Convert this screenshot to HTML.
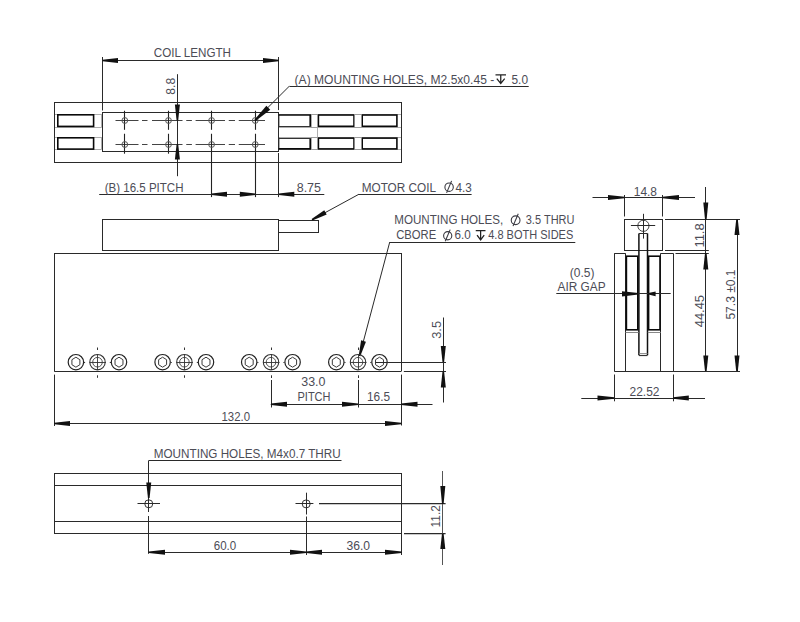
<!DOCTYPE html>
<html><head><meta charset="utf-8"><style>
html,body{margin:0;padding:0;background:#fff;}
body{width:800px;height:622px;overflow:hidden;}
svg{display:block;font-family:"Liberation Sans",sans-serif;}
</style></head><body>
<svg width="800" height="622" viewBox="0 0 800 622">
<rect width="800" height="622" fill="#fff"/>
<line x1="102.5" y1="57" x2="102.5" y2="110.5" stroke="#2a2a2a" stroke-width="1"/>
<line x1="278.5" y1="57" x2="278.5" y2="110.1" stroke="#2a2a2a" stroke-width="1"/>
<line x1="102.5" y1="60.5" x2="278.6" y2="60.5" stroke="#2a2a2a" stroke-width="1"/>
<polygon points="102.5,59.7 118,58 118,63 102.5,61.3" fill="#111"/>
<polygon points="278.6,61.3 263,63 263,58 278.6,59.7" fill="#111"/>
<text x="153.75" y="57" font-size="12" textLength="77.25" lengthAdjust="spacingAndGlyphs" fill="#4c4c56">COIL LENGTH</text>
<rect x="54.5" y="102.5" width="347" height="60" fill="none" stroke="#2a2a2a" stroke-width="1"/>
<rect x="102.5" y="112.5" width="176" height="39" fill="none" stroke="#2a2a2a" stroke-width="1"/>
<rect x="54.5" y="114.5" width="47" height="13" fill="none" stroke="#9a9a9a" stroke-width="0.8"/>
<rect x="57.8" y="114.8" width="35.8" height="11.6" fill="none" stroke="#0a0a0a" stroke-width="1.6"/>
<rect x="54.5" y="137.5" width="47" height="12" fill="none" stroke="#9a9a9a" stroke-width="0.8"/>
<rect x="57.8" y="137.8" width="35.8" height="11.3" fill="none" stroke="#0a0a0a" stroke-width="1.6"/>
<rect x="279.5" y="114.5" width="122" height="13" fill="none" stroke="#9a9a9a" stroke-width="0.8"/>
<rect x="318.4" y="115" width="35.6" height="11.3" fill="none" stroke="#0a0a0a" stroke-width="1.6"/>
<rect x="362.2" y="115" width="34.7" height="11.3" fill="none" stroke="#0a0a0a" stroke-width="1.6"/>
<line x1="310.2" y1="115" x2="310.2" y2="126.3" stroke="#0a0a0a" stroke-width="1.6"/>
<line x1="278.6" y1="115" x2="311" y2="115" stroke="#0a0a0a" stroke-width="1.6"/>
<line x1="278.6" y1="126.5" x2="311" y2="126.5" stroke="#333" stroke-width="1"/>
<rect x="311.5" y="114.5" width="6" height="13" fill="none" stroke="#9a9a9a" stroke-width="0.8"/>
<rect x="354.5" y="114.5" width="7" height="13" fill="none" stroke="#9a9a9a" stroke-width="0.8"/>
<rect x="279.5" y="137.5" width="122" height="12" fill="none" stroke="#9a9a9a" stroke-width="0.8"/>
<rect x="318.4" y="138.1" width="35.6" height="10.8" fill="none" stroke="#0a0a0a" stroke-width="1.6"/>
<rect x="362.2" y="138.1" width="34.7" height="10.8" fill="none" stroke="#0a0a0a" stroke-width="1.6"/>
<line x1="310.2" y1="138.1" x2="310.2" y2="148.9" stroke="#0a0a0a" stroke-width="1.6"/>
<line x1="278.6" y1="148.9" x2="311" y2="148.9" stroke="#0a0a0a" stroke-width="1.6"/>
<line x1="278.6" y1="138.5" x2="311" y2="138.5" stroke="#333" stroke-width="1"/>
<rect x="311.5" y="137.5" width="6" height="12" fill="none" stroke="#9a9a9a" stroke-width="0.8"/>
<rect x="354.5" y="137.5" width="7" height="12" fill="none" stroke="#9a9a9a" stroke-width="0.8"/>
<line x1="317.5" y1="127.3" x2="317.5" y2="137.2" stroke="#9a9a9a" stroke-width="0.8"/>
<rect x="54.5" y="102.5" width="347" height="60" fill="none" stroke="#2a2a2a" stroke-width="1"/>
<line x1="115.5" y1="120.5" x2="138.5" y2="120.5" stroke="#444" stroke-width="1"/>
<line x1="142" y1="120.5" x2="147.5" y2="120.5" stroke="#444" stroke-width="1"/>
<line x1="152" y1="120.5" x2="182.5" y2="120.5" stroke="#444" stroke-width="1"/>
<line x1="186.25" y1="120.5" x2="191.9" y2="120.5" stroke="#444" stroke-width="1"/>
<line x1="195.6" y1="120.5" x2="225" y2="120.5" stroke="#444" stroke-width="1"/>
<line x1="228.75" y1="120.5" x2="235" y2="120.5" stroke="#444" stroke-width="1"/>
<line x1="238.75" y1="120.5" x2="265" y2="120.5" stroke="#444" stroke-width="1"/>
<line x1="115.5" y1="144.5" x2="138.5" y2="144.5" stroke="#444" stroke-width="1"/>
<line x1="142" y1="144.5" x2="147.5" y2="144.5" stroke="#444" stroke-width="1"/>
<line x1="152" y1="144.5" x2="182.5" y2="144.5" stroke="#444" stroke-width="1"/>
<line x1="186.25" y1="144.5" x2="191.9" y2="144.5" stroke="#444" stroke-width="1"/>
<line x1="195.6" y1="144.5" x2="225" y2="144.5" stroke="#444" stroke-width="1"/>
<line x1="228.75" y1="144.5" x2="235" y2="144.5" stroke="#444" stroke-width="1"/>
<line x1="238.75" y1="144.5" x2="265" y2="144.5" stroke="#444" stroke-width="1"/>
<line x1="124.5" y1="110.75" x2="124.5" y2="129.8" stroke="#222" stroke-width="1.1"/>
<line x1="124.5" y1="133.75" x2="124.5" y2="153.7" stroke="#222" stroke-width="1.1"/>
<line x1="168.5" y1="110.75" x2="168.5" y2="129.8" stroke="#222" stroke-width="1.1"/>
<line x1="168.5" y1="133.75" x2="168.5" y2="153.7" stroke="#222" stroke-width="1.1"/>
<line x1="211.5" y1="110.75" x2="211.5" y2="129.8" stroke="#222" stroke-width="1.1"/>
<line x1="211.5" y1="133.75" x2="211.5" y2="197.1" stroke="#222" stroke-width="1.1"/>
<line x1="255.5" y1="110.75" x2="255.5" y2="129.8" stroke="#222" stroke-width="1.1"/>
<line x1="255.5" y1="133.75" x2="255.5" y2="197.1" stroke="#222" stroke-width="1.1"/>
<circle cx="124.8" cy="120.5" r="2.9" fill="none" stroke="#555" stroke-width="1"/>
<circle cx="124.8" cy="144.5" r="2.9" fill="none" stroke="#555" stroke-width="1"/>
<circle cx="168.5" cy="120.5" r="2.9" fill="none" stroke="#555" stroke-width="1"/>
<circle cx="168.5" cy="144.5" r="2.9" fill="none" stroke="#555" stroke-width="1"/>
<circle cx="211.6" cy="120.5" r="2.9" fill="none" stroke="#555" stroke-width="1"/>
<circle cx="211.6" cy="144.5" r="2.9" fill="none" stroke="#555" stroke-width="1"/>
<circle cx="255.25" cy="120.5" r="2.9" fill="none" stroke="#555" stroke-width="1"/>
<circle cx="255.25" cy="144.5" r="2.9" fill="none" stroke="#555" stroke-width="1"/>
<line x1="177.5" y1="74.2" x2="177.5" y2="176.2" stroke="#2a2a2a" stroke-width="1"/>
<polygon points="176.6,120.6 174.9,104.5 179.9,104.5 178.2,120.6" fill="#111"/>
<polygon points="178.2,144.3 179.9,159.5 174.9,159.5 176.6,144.3" fill="#111"/>
<text transform="translate(174.7,94.7) rotate(-90)" x="0" y="0" font-size="12" textLength="16.8" lengthAdjust="spacingAndGlyphs" fill="#4c4c56">8.8</text>
<line x1="528.7" y1="86.5" x2="289.4" y2="86.5" stroke="#2a2a2a" stroke-width="1"/>
<line x1="289.2" y1="86.3" x2="258" y2="117.4" stroke="#2a2a2a" stroke-width="1"/>
<polygon points="254.45,119.72 266.37,105.67 270.23,109.73 255.55,120.88" fill="#111"/>
<text x="294.6" y="83.6" font-size="12" textLength="199.6" lengthAdjust="spacingAndGlyphs" fill="#4c4c56">(A) MOUNTING HOLES, M2.5x0.45 -</text>
<path d="M495.5 74.8H506M500.75 74.8V83.4M496.8 78.6L500.75 83.4L504.7 78.6" fill="none" stroke="#222" stroke-width="1.25"/>
<text x="511.5" y="83.6" font-size="12" textLength="16.5" lengthAdjust="spacingAndGlyphs" fill="#4c4c56">5.0</text>
<line x1="99.2" y1="194.5" x2="324.3" y2="194.5" stroke="#2a2a2a" stroke-width="1"/>
<polygon points="211.6,193.4 227,191.7 227,196.7 211.6,195" fill="#111"/>
<polygon points="255.25,195 239.8,196.7 239.8,191.7 255.25,193.4" fill="#111"/>
<polygon points="278.8,193.4 294.3,191.7 294.3,196.7 278.8,195" fill="#111"/>
<line x1="278.5" y1="153" x2="278.5" y2="197.1" stroke="#2a2a2a" stroke-width="1"/>
<text x="104.75" y="192" font-size="12" textLength="78.75" lengthAdjust="spacingAndGlyphs" fill="#4c4c56">(B) 16.5 PITCH</text>
<text x="296.7" y="191.6" font-size="12" textLength="24.3" lengthAdjust="spacingAndGlyphs" fill="#4c4c56">8.75</text>
<rect x="102.5" y="219.5" width="176" height="31" fill="none" stroke="#2a2a2a" stroke-width="1"/>
<rect x="278.5" y="220.5" width="40" height="12" fill="none" stroke="#2a2a2a" stroke-width="1"/>
<line x1="54.25" y1="253.5" x2="401.2" y2="253.5" stroke="#2a2a2a" stroke-width="1"/>
<line x1="54.5" y1="253" x2="54.5" y2="371.4" stroke="#2a2a2a" stroke-width="1"/>
<line x1="401.5" y1="253" x2="401.5" y2="371.4" stroke="#2a2a2a" stroke-width="1"/>
<line x1="54.25" y1="371.5" x2="401.2" y2="371.5" stroke="#2a2a2a" stroke-width="1.2"/>
<line x1="54.5" y1="374.6" x2="54.5" y2="426" stroke="#2a2a2a" stroke-width="1"/>
<line x1="401.5" y1="374.6" x2="401.5" y2="425.5" stroke="#2a2a2a" stroke-width="1"/>
<line x1="471.6" y1="194.5" x2="359" y2="194.5" stroke="#2a2a2a" stroke-width="1"/>
<line x1="359" y1="194.2" x2="312" y2="219.8" stroke="#2a2a2a" stroke-width="1"/>
<polygon points="311.62,219.1 324.3,210.21 326.7,214.59 312.38,220.5" fill="#111"/>
<text x="361.7" y="191.7" font-size="12" textLength="74.3" lengthAdjust="spacingAndGlyphs" fill="#4c4c56">MOTOR COIL</text>
<circle cx="449.1" cy="187.2" r="4.2" fill="none" stroke="#3a3a42" stroke-width="1.1"/>
<line x1="446.58" y1="192.87" x2="451.62" y2="180.9" stroke="#3a3a42" stroke-width="1.1"/>
<text x="455.6" y="191.7" font-size="12" textLength="16.3" lengthAdjust="spacingAndGlyphs" fill="#4c4c56">4.3</text>
<line x1="575.3" y1="242.5" x2="389.75" y2="242.5" stroke="#2a2a2a" stroke-width="1"/>
<line x1="389.75" y1="242" x2="359.5" y2="356" stroke="#2a2a2a" stroke-width="1"/>
<polygon points="358.73,355.79 361.08,340.36 365.92,341.64 360.27,356.21" fill="#111"/>
<text x="394.25" y="224.2" font-size="12" textLength="109" lengthAdjust="spacingAndGlyphs" fill="#4c4c56">MOUNTING HOLES,</text>
<circle cx="515.62" cy="220.25" r="4.38" fill="none" stroke="#3a3a42" stroke-width="1.1"/>
<line x1="513" y1="226.16" x2="518.25" y2="213.69" stroke="#3a3a42" stroke-width="1.1"/>
<text x="525.75" y="224.2" font-size="12" textLength="48.75" lengthAdjust="spacingAndGlyphs" fill="#4c4c56">3.5 THRU</text>
<text x="396.2" y="239.2" font-size="12" textLength="40.05" lengthAdjust="spacingAndGlyphs" fill="#4c4c56">CBORE</text>
<circle cx="447.7" cy="235.75" r="4.1" fill="none" stroke="#3a3a42" stroke-width="1.1"/>
<line x1="445.24" y1="241.28" x2="450.16" y2="229.6" stroke="#3a3a42" stroke-width="1.1"/>
<text x="454.5" y="239.2" font-size="12" textLength="16.25" lengthAdjust="spacingAndGlyphs" fill="#4c4c56">6.0</text>
<path d="M475.75 230.5H485.5M480.62 230.5V239.9M477.05 235.1L480.62 239.9L484.2 235.1" fill="none" stroke="#222" stroke-width="1.25"/>
<text x="488.25" y="239.2" font-size="12" textLength="85.05" lengthAdjust="spacingAndGlyphs" fill="#4c4c56">4.8 BOTH SIDES</text>
<circle cx="75.9" cy="362.2" r="7.7" fill="none" stroke="#222" stroke-width="1.2"/>
<polygon points="75.9,357.2 71.92,359.7 71.92,364.7 75.9,367.2 79.88,364.7 79.88,359.7" fill="none" stroke="#3c3c3c" stroke-width="1"/>
<circle cx="119" cy="362.2" r="7.7" fill="none" stroke="#222" stroke-width="1.2"/>
<polygon points="119,357.2 115.02,359.7 115.02,364.7 119,367.2 122.98,364.7 122.98,359.7" fill="none" stroke="#3c3c3c" stroke-width="1"/>
<circle cx="97.5" cy="362.2" r="7.7" fill="none" stroke="#333" stroke-width="1.1"/>
<circle cx="97.5" cy="362.2" r="4.8" fill="none" stroke="#555" stroke-width="1"/>
<line x1="89.5" y1="362.5" x2="106" y2="362.5" stroke="#333" stroke-width="0.9"/>
<line x1="97.5" y1="354" x2="97.5" y2="370" stroke="#333" stroke-width="0.9"/>
<line x1="97.5" y1="347.5" x2="97.5" y2="350" stroke="#333" stroke-width="1"/>
<line x1="83.9" y1="362.5" x2="85.1" y2="362.5" stroke="#333" stroke-width="1.2"/>
<line x1="109.8" y1="362.5" x2="111" y2="362.5" stroke="#333" stroke-width="1.2"/>
<circle cx="162.6" cy="362.2" r="7.7" fill="none" stroke="#222" stroke-width="1.2"/>
<polygon points="162.6,357.2 158.62,359.7 158.62,364.7 162.6,367.2 166.58,364.7 166.58,359.7" fill="none" stroke="#3c3c3c" stroke-width="1"/>
<circle cx="206" cy="362.2" r="7.7" fill="none" stroke="#222" stroke-width="1.2"/>
<polygon points="206,357.2 202.02,359.7 202.02,364.7 206,367.2 209.98,364.7 209.98,359.7" fill="none" stroke="#3c3c3c" stroke-width="1"/>
<circle cx="184.4" cy="362.2" r="7.7" fill="none" stroke="#333" stroke-width="1.1"/>
<circle cx="184.4" cy="362.2" r="4.8" fill="none" stroke="#555" stroke-width="1"/>
<line x1="176.4" y1="362.5" x2="192.9" y2="362.5" stroke="#333" stroke-width="0.9"/>
<line x1="184.5" y1="354" x2="184.5" y2="370" stroke="#333" stroke-width="0.9"/>
<line x1="184.5" y1="347.5" x2="184.5" y2="350" stroke="#333" stroke-width="1"/>
<line x1="170.6" y1="362.5" x2="171.8" y2="362.5" stroke="#333" stroke-width="1.2"/>
<line x1="196.8" y1="362.5" x2="198" y2="362.5" stroke="#333" stroke-width="1.2"/>
<circle cx="249.2" cy="362.2" r="7.7" fill="none" stroke="#222" stroke-width="1.2"/>
<polygon points="249.2,357.2 245.22,359.7 245.22,364.7 249.2,367.2 253.18,364.7 253.18,359.7" fill="none" stroke="#3c3c3c" stroke-width="1"/>
<circle cx="292.6" cy="362.2" r="7.7" fill="none" stroke="#222" stroke-width="1.2"/>
<polygon points="292.6,357.2 288.62,359.7 288.62,364.7 292.6,367.2 296.58,364.7 296.58,359.7" fill="none" stroke="#3c3c3c" stroke-width="1"/>
<circle cx="271" cy="362.2" r="7.7" fill="none" stroke="#333" stroke-width="1.1"/>
<circle cx="271" cy="362.2" r="4.8" fill="none" stroke="#555" stroke-width="1"/>
<line x1="263" y1="362.5" x2="279.5" y2="362.5" stroke="#333" stroke-width="0.9"/>
<line x1="271.5" y1="354" x2="271.5" y2="370" stroke="#333" stroke-width="0.9"/>
<line x1="271.5" y1="347.5" x2="271.5" y2="350" stroke="#333" stroke-width="1"/>
<line x1="257.2" y1="362.5" x2="258.4" y2="362.5" stroke="#333" stroke-width="1.2"/>
<line x1="283.4" y1="362.5" x2="284.6" y2="362.5" stroke="#333" stroke-width="1.2"/>
<circle cx="336.3" cy="362.2" r="7.7" fill="none" stroke="#222" stroke-width="1.2"/>
<polygon points="336.3,357.2 332.32,359.7 332.32,364.7 336.3,367.2 340.28,364.7 340.28,359.7" fill="none" stroke="#3c3c3c" stroke-width="1"/>
<circle cx="379.5" cy="362.2" r="7.7" fill="none" stroke="#222" stroke-width="1.2"/>
<polygon points="379.5,357.2 375.52,359.7 375.52,364.7 379.5,367.2 383.48,364.7 383.48,359.7" fill="none" stroke="#3c3c3c" stroke-width="1"/>
<circle cx="358" cy="362.2" r="7.7" fill="none" stroke="#333" stroke-width="1.1"/>
<circle cx="358" cy="362.2" r="4.8" fill="none" stroke="#555" stroke-width="1"/>
<line x1="350" y1="362.5" x2="366.5" y2="362.5" stroke="#333" stroke-width="0.9"/>
<line x1="358.5" y1="354" x2="358.5" y2="370" stroke="#333" stroke-width="0.9"/>
<line x1="358.5" y1="347.5" x2="358.5" y2="350" stroke="#333" stroke-width="1"/>
<line x1="344.3" y1="362.5" x2="345.5" y2="362.5" stroke="#333" stroke-width="1.2"/>
<line x1="370.3" y1="362.5" x2="371.5" y2="362.5" stroke="#333" stroke-width="1.2"/>
<line x1="97.5" y1="375.3" x2="97.5" y2="377.8" stroke="#333" stroke-width="1"/>
<line x1="184.5" y1="375.3" x2="184.5" y2="377.8" stroke="#333" stroke-width="1"/>
<line x1="271.5" y1="375.3" x2="271.5" y2="378" stroke="#333" stroke-width="1"/>
<line x1="271.5" y1="380" x2="271.5" y2="407.5" stroke="#2a2a2a" stroke-width="1"/>
<line x1="358.5" y1="375.3" x2="358.5" y2="378" stroke="#333" stroke-width="1"/>
<line x1="358.5" y1="380" x2="358.5" y2="407.5" stroke="#2a2a2a" stroke-width="1"/>
<line x1="270.75" y1="404.5" x2="432.5" y2="404.5" stroke="#2a2a2a" stroke-width="1"/>
<polygon points="271,403.5 287,401.8 287,406.8 271,405.1" fill="#111"/>
<polygon points="358,405.1 342,406.8 342,401.8 358,403.5" fill="#111"/>
<polygon points="401.2,403.5 417.5,401.8 417.5,406.8 401.2,405.1" fill="#111"/>
<text x="301.25" y="386.3" font-size="12" textLength="24.25" lengthAdjust="spacingAndGlyphs" fill="#4c4c56">33.0</text>
<text x="297.5" y="401.3" font-size="12" textLength="33" lengthAdjust="spacingAndGlyphs" fill="#4c4c56">PITCH</text>
<text x="367" y="401.3" font-size="12" textLength="23" lengthAdjust="spacingAndGlyphs" fill="#4c4c56">16.5</text>
<line x1="54.25" y1="423.5" x2="401.2" y2="423.5" stroke="#2a2a2a" stroke-width="1"/>
<polygon points="54.25,422.7 70,421 70,426 54.25,424.3" fill="#111"/>
<polygon points="401.2,424.3 385,426 385,421 401.2,422.7" fill="#111"/>
<text x="221.5" y="421" font-size="12" textLength="28.5" lengthAdjust="spacingAndGlyphs" fill="#4c4c56">132.0</text>
<line x1="375.5" y1="362.5" x2="446" y2="362.5" stroke="#2a2a2a" stroke-width="1"/>
<line x1="403.8" y1="371.5" x2="446" y2="371.5" stroke="#2a2a2a" stroke-width="1"/>
<line x1="443.5" y1="317.5" x2="443.5" y2="402.5" stroke="#2a2a2a" stroke-width="1"/>
<polygon points="442.5,362.2 440.8,346 445.8,346 444.1,362.2" fill="#111"/>
<polygon points="444.1,371.4 445.8,387.5 440.8,387.5 442.5,371.4" fill="#111"/>
<text transform="translate(440.6,338.8) rotate(-90)" x="0" y="0" font-size="12" textLength="17.8" lengthAdjust="spacingAndGlyphs" fill="#4c4c56">3.5</text>
<rect x="624.5" y="219.5" width="38" height="31" fill="none" stroke="#2a2a2a" stroke-width="1"/>
<circle cx="643.4" cy="225.8" r="5.6" fill="none" stroke="#444" stroke-width="1"/>
<line x1="643.5" y1="213.8" x2="643.5" y2="238.6" stroke="#2a2a2a" stroke-width="1"/>
<line x1="630.9" y1="225.5" x2="655.2" y2="225.5" stroke="#2a2a2a" stroke-width="1"/>
<line x1="638.9" y1="233.4" x2="638.9" y2="355.2" stroke="#111" stroke-width="1.5"/>
<line x1="647.5" y1="233.4" x2="647.5" y2="355.2" stroke="#111" stroke-width="1.5"/>
<line x1="638.9" y1="233.5" x2="647.5" y2="233.5" stroke="#2a2a2a" stroke-width="1"/>
<line x1="638.9" y1="353.5" x2="647.5" y2="353.5" stroke="#888" stroke-width="0.9"/>
<line x1="638.9" y1="355.5" x2="647.5" y2="355.5" stroke="#333" stroke-width="1.2"/>
<line x1="614.3" y1="253.5" x2="625.5" y2="253.5" stroke="#2a2a2a" stroke-width="1"/>
<line x1="660.7" y1="253.5" x2="673.2" y2="253.5" stroke="#2a2a2a" stroke-width="1"/>
<line x1="614.5" y1="253.3" x2="614.5" y2="371.4" stroke="#2a2a2a" stroke-width="1"/>
<line x1="673.5" y1="253.3" x2="673.5" y2="371.4" stroke="#2a2a2a" stroke-width="1"/>
<line x1="614.3" y1="371.5" x2="673.2" y2="371.5" stroke="#2a2a2a" stroke-width="1"/>
<line x1="625.5" y1="253.3" x2="625.5" y2="371.4" stroke="#2a2a2a" stroke-width="1"/>
<line x1="660.5" y1="253.3" x2="660.5" y2="371.4" stroke="#2a2a2a" stroke-width="1"/>
<rect x="626.4" y="256.2" width="11.4" height="73.6" fill="none" stroke="#0a0a0a" stroke-width="1.6"/>
<rect x="648.6" y="256.2" width="11.4" height="73.6" fill="none" stroke="#0a0a0a" stroke-width="1.6"/>
<line x1="625.5" y1="332.5" x2="638.6" y2="332.5" stroke="#888" stroke-width="1"/>
<line x1="647.8" y1="332.5" x2="660.7" y2="332.5" stroke="#888" stroke-width="1"/>
<line x1="624.5" y1="195" x2="624.5" y2="216.5" stroke="#2a2a2a" stroke-width="1"/>
<line x1="662.5" y1="195" x2="662.5" y2="216.5" stroke="#2a2a2a" stroke-width="1"/>
<line x1="592.5" y1="197.5" x2="695" y2="197.5" stroke="#2a2a2a" stroke-width="1"/>
<polygon points="624.5,198.3 608,200 608,195 624.5,196.7" fill="#111"/>
<polygon points="662.5,196.7 679,195 679,200 662.5,198.3" fill="#111"/>
<text x="633.75" y="195.5" font-size="12" textLength="23.25" lengthAdjust="spacingAndGlyphs" fill="#4c4c56">14.8</text>
<line x1="665" y1="219.5" x2="740" y2="219.5" stroke="#2a2a2a" stroke-width="1"/>
<line x1="665" y1="250.5" x2="708.8" y2="250.5" stroke="#2a2a2a" stroke-width="1"/>
<line x1="675.5" y1="253.5" x2="708.8" y2="253.5" stroke="#2a2a2a" stroke-width="1"/>
<line x1="705.5" y1="187" x2="705.5" y2="371.3" stroke="#2a2a2a" stroke-width="1"/>
<polygon points="705,219.4 703.3,202.5 708.3,202.5 706.6,219.4" fill="#111"/>
<polygon points="706.6,253.2 708.3,269.5 703.3,269.5 705,253.2" fill="#111"/>
<polygon points="705,371.3 703.3,355.5 708.3,355.5 706.6,371.3" fill="#111"/>
<line x1="737.5" y1="219.4" x2="737.5" y2="371.3" stroke="#2a2a2a" stroke-width="1"/>
<polygon points="737.8,219.4 739.5,235 734.5,235 736.2,219.4" fill="#111"/>
<polygon points="736.2,371.3 734.5,355.5 739.5,355.5 737.8,371.3" fill="#111"/>
<line x1="673.1" y1="371.5" x2="740" y2="371.5" stroke="#2a2a2a" stroke-width="1"/>
<text transform="translate(703.5,247.6) rotate(-90)" x="0" y="0" font-size="12" textLength="24.3" lengthAdjust="spacingAndGlyphs" fill="#4c4c56">11.8</text>
<text transform="translate(704.3,327.3) rotate(-90)" x="0" y="0" font-size="12" textLength="32.3" lengthAdjust="spacingAndGlyphs" fill="#4c4c56">44.45</text>
<text transform="translate(735.3,319.6) rotate(-90)" x="0" y="0" font-size="12" textLength="50.1" lengthAdjust="spacingAndGlyphs" fill="#4c4c56">57.3 ±0.1</text>
<line x1="556.3" y1="293.5" x2="670.7" y2="293.5" stroke="#2a2a2a" stroke-width="1"/>
<polygon points="638.3,294.6 622,296.4 622,291.2 638.3,293" fill="#111"/>
<polygon points="648.4,293 655.6,291.4 655.6,296.2 648.4,294.6" fill="#111"/>
<text x="569.75" y="276.6" font-size="12" textLength="24.65" lengthAdjust="spacingAndGlyphs" fill="#4c4c56">(0.5)</text>
<text x="557.5" y="291.3" font-size="12" textLength="48.1" lengthAdjust="spacingAndGlyphs" fill="#4c4c56">AIR GAP</text>
<line x1="614.5" y1="374.5" x2="614.5" y2="401.3" stroke="#2a2a2a" stroke-width="1"/>
<line x1="673.5" y1="374.5" x2="673.5" y2="401.3" stroke="#2a2a2a" stroke-width="1"/>
<line x1="581.3" y1="398.5" x2="705" y2="398.5" stroke="#2a2a2a" stroke-width="1"/>
<polygon points="614.3,398.8 597.5,400.5 597.5,395.5 614.3,397.2" fill="#111"/>
<polygon points="673.1,397.2 688.8,395.5 688.8,400.5 673.1,398.8" fill="#111"/>
<text x="629.5" y="396.3" font-size="12" textLength="30" lengthAdjust="spacingAndGlyphs" fill="#4c4c56">22.52</text>
<rect x="54.5" y="473.5" width="347" height="60" fill="none" stroke="#2a2a2a" stroke-width="1"/>
<line x1="54.3" y1="485.5" x2="401.6" y2="485.5" stroke="#2a2a2a" stroke-width="1.2"/>
<line x1="54.3" y1="521.5" x2="401.6" y2="521.5" stroke="#2a2a2a" stroke-width="1.2"/>
<circle cx="148.75" cy="503.8" r="4" fill="none" stroke="#333" stroke-width="1"/>
<line x1="137.5" y1="503.5" x2="160" y2="503.5" stroke="#2a2a2a" stroke-width="1"/>
<circle cx="306.2" cy="503.9" r="4" fill="none" stroke="#333" stroke-width="1"/>
<line x1="295.5" y1="503.5" x2="313.4" y2="503.5" stroke="#2a2a2a" stroke-width="1"/>
<line x1="319" y1="503.5" x2="445.6" y2="503.5" stroke="#2a2a2a" stroke-width="1.25"/>
<line x1="306.5" y1="492.7" x2="306.5" y2="514.5" stroke="#2a2a2a" stroke-width="1"/>
<line x1="306.5" y1="516.5" x2="306.5" y2="555" stroke="#2a2a2a" stroke-width="1"/>
<line x1="148.5" y1="460.5" x2="148.5" y2="512" stroke="#2a2a2a" stroke-width="1"/>
<line x1="148.5" y1="516" x2="148.5" y2="553.8" stroke="#2a2a2a" stroke-width="1"/>
<polygon points="147.95,498 146.25,482.5 151.25,482.5 149.55,498" fill="#111"/>
<line x1="148.75" y1="460.5" x2="341.5" y2="460.5" stroke="#2a2a2a" stroke-width="1"/>
<text x="153.75" y="457.5" font-size="12" textLength="186.95" lengthAdjust="spacingAndGlyphs" fill="#4c4c56">MOUNTING HOLES, M4x0.7 THRU</text>
<line x1="401.5" y1="533.6" x2="401.5" y2="555" stroke="#2a2a2a" stroke-width="1"/>
<line x1="148.75" y1="552.5" x2="401.6" y2="552.5" stroke="#2a2a2a" stroke-width="1"/>
<polygon points="148.75,551.4 165,549.7 165,554.7 148.75,553" fill="#111"/>
<polygon points="306.2,553 290,554.7 290,549.7 306.2,551.4" fill="#111"/>
<polygon points="306.2,551.4 322,549.7 322,554.7 306.2,553" fill="#111"/>
<polygon points="401.6,553 385,554.7 385,549.7 401.6,551.4" fill="#111"/>
<text x="213.75" y="549.6" font-size="12" textLength="22.5" lengthAdjust="spacingAndGlyphs" fill="#4c4c56">60.0</text>
<text x="346.4" y="549.9" font-size="12" textLength="23.6" lengthAdjust="spacingAndGlyphs" fill="#4c4c56">36.0</text>
<line x1="404" y1="533.5" x2="445.6" y2="533.5" stroke="#2a2a2a" stroke-width="1.25"/>
<line x1="442.5" y1="471" x2="442.5" y2="565" stroke="#555" stroke-width="1"/>
<polygon points="442,503.9 440.3,486 445.3,486 443.6,503.9" fill="#111"/>
<polygon points="443.6,533.6 445.3,549 440.3,549 442,533.6" fill="#111"/>
<text transform="translate(440.3,527.4) rotate(-90)" x="0" y="0" font-size="12" textLength="22.2" lengthAdjust="spacingAndGlyphs" fill="#4c4c56">11.2</text>
</svg>
</body></html>
